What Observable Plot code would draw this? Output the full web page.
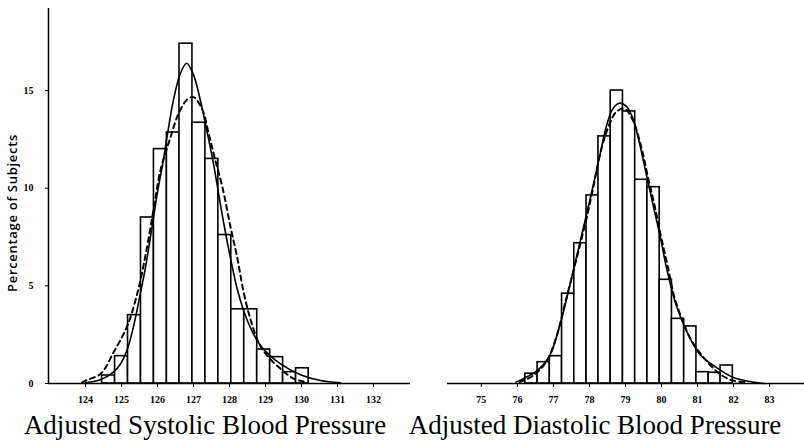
<!DOCTYPE html>
<html><head><meta charset="utf-8">
<script src="https://cdn.jsdelivr.net/npm/d3@7"></script>
<script src="https://cdn.jsdelivr.net/npm/@observablehq/plot@0.6"></script>
<style>
body{margin:0;background:#fff;}
#wrap{position:relative;width:804px;height:443px;overflow:hidden;background:#fff;}
#left{position:absolute;left:0;top:0;}
#right{position:absolute;left:420px;top:0;}
.title{position:absolute;top:412px;width:420px;text-align:center;font-family:"Liberation Serif","Times New Roman",serif;font-size:27px;line-height:27px;white-space:nowrap;color:#000;}
.ylab{letter-spacing:0.7px;}
</style></head><body>
<div id="wrap"><div id="left"></div><div id="right"></div>
<div class="title" style="left:-5px">Adjusted Systolic Blood Pressure</div>
<div class="title" style="left:385px">Adjusted Diastolic Blood Pressure</div>
</div>
<script>
// ---- Systolic (left panel) ----
const sysTicks = [124, 125, 126, 127, 128, 129, 130, 131, 132];
const sysEdges = [124.46, 124.82, 125.18, 125.54, 125.90, 126.26, 126.61, 126.97, 127.33, 127.69, 128.05, 128.41, 128.77, 129.13, 129.49, 129.85, 130.20];
const sysPct = [0.41, 1.4, 3.5, 8.5, 12.0, 12.85, 17.4, 13.35, 11.5, 7.6, 3.8, 3.8, 1.74, 1.35, 0.58, 0.78];
const sysSolidX = [124.00, 124.42, 124.78, 124.97, 125.17, 125.33, 125.50, 125.67, 125.83, 126.00, 126.14, 126.28, 126.44, 126.64, 126.81, 127.00, 127.19, 127.33, 127.53, 127.69, 127.86, 128.03, 128.22, 128.50, 128.86, 129.42, 129.97, 130.53, 131.08];
const sysSolidY = [0.03, 0.2, 0.6, 1.0, 1.8, 2.9, 4.4, 6.0, 7.8, 9.8, 11.2, 12.8, 14.5, 15.9, 16.4, 15.8, 14.5, 13.3, 11.5, 9.8, 8.0, 6.4, 4.8, 3.2, 1.95, 1.0, 0.45, 0.15, 0.04];
const sysDashX = [123.90, 124.00, 124.42, 124.78, 125.17, 125.47, 125.69, 125.89, 126.08, 126.36, 126.58, 126.83, 127.00, 127.25, 127.42, 127.61, 127.81, 128.03, 128.22, 128.39, 128.58, 128.81, 129.06, 129.42, 129.78, 130.06];
const sysDashY = [0.05, 0.15, 0.5, 1.6, 3.0, 4.85, 6.8, 8.9, 10.9, 12.6, 13.8, 14.55, 14.66, 14.0, 12.8, 11.4, 10.0, 8.0, 6.4, 4.7, 3.3, 2.1, 1.4, 0.75, 0.25, 0.1];

// ---- Diastolic (right panel) ----
const diaTicks = [75, 76, 77, 78, 79, 80, 81, 82, 83];
const diaEdges = [76.22, 76.56, 76.90, 77.24, 77.58, 77.92, 78.25, 78.59, 78.93, 79.27, 79.61, 79.95, 80.29, 80.63, 80.97, 81.31, 81.64, 81.98];
const diaPct = [0.5, 1.09, 1.4, 4.6, 7.18, 9.63, 12.65, 15.0, 13.93, 10.43, 10.05, 5.31, 3.31, 2.92, 0.58, 0.55, 0.92];
const diaSolidX = [75.96, 76.24, 76.56, 76.89, 77.12, 77.35, 77.58, 77.81, 78.05, 78.28, 78.46, 78.65, 78.83, 79.02, 79.20, 79.39, 79.58, 79.76, 79.99, 80.13, 80.41, 80.69, 81.06, 81.52, 81.98, 82.54, 82.86];
const diaSolidY = [0.07, 0.32, 0.67, 1.4, 2.6, 4.2, 6.0, 7.8, 9.7, 11.6, 13.1, 14.07, 14.35, 14.2, 13.6, 12.3, 10.7, 9.2, 7.3, 6.0, 4.0, 2.7, 1.5, 0.83, 0.32, 0.07, 0.0];
const diaDashX = [76.06, 76.43, 76.80, 77.08, 77.35, 77.63, 77.95, 78.09, 78.33, 78.56, 78.74, 78.97, 79.20, 79.44, 79.62, 79.81, 79.99, 80.18, 80.36, 80.59, 80.83, 81.24, 81.61, 81.98, 82.35];
const diaDashY = [0.07, 0.4, 1.09, 2.37, 4.3, 6.3, 8.7, 9.9, 12.0, 13.3, 13.9, 14.07, 13.5, 12.1, 10.6, 9.1, 7.5, 5.95, 4.4, 3.2, 2.2, 1.18, 0.5, 0.15, 0.07];

const yTicks = [0, 5, 10, 15];
const yLabel = "Percentage of Subjects";

const tickFont = '"Liberation Serif", "Times New Roman", serif';

function bins(edges, pct) {
  return pct.map((v, i) => ({x1: edges[i], x2: edges[i + 1], y: v}));
}
function pts(xs, ys) {
  return xs.map((x, i) => ({x, y: ys[i]}));
}

function panel(o) {
  const marks = [
    Plot.rectY(bins(o.edges, o.pct), {x1: "x1", x2: "x2", y: "y", fill: "white", stroke: "black", strokeWidth: 1.6, insetLeft: 0, insetRight: 0}),
    Plot.line(pts(o.solidX, o.solidY), {x: "x", y: "y", curve: "catmull-rom", stroke: "black", strokeWidth: 1.6}),
    Plot.line(pts(o.dashX, o.dashY), {x: "x", y: "y", curve: "catmull-rom", stroke: "black", strokeWidth: 2, strokeDasharray: "5,4"}),
    Plot.ruleY([0], {stroke: "black", strokeWidth: 1.5}),
    Plot.axisX(o.ticks, {tickSize: 4, tickPadding: 8, fontSize: 10, fontWeight: "bold", fontFamily: tickFont, label: null})
  ];
  if (o.showY) {
    marks.push(Plot.ruleX([o.xDomain[0]], {stroke: "black", strokeWidth: 1.5}));
    marks.push(Plot.axisY(yTicks, {tickSize: 3, tickPadding: 12, fontSize: 10, fontWeight: "bold", fontFamily: tickFont, label: null}));
    marks.push(Plot.text([yLabel], {text: d => d, frameAnchor: "left", textAnchor: "middle", rotate: -90, dx: -36, dy: 17, fontFamily: '"Open Sans", sans-serif', fontSize: 13, fontWeight: 600, fill: "black"}));
  }
  const svg = Plot.plot({
    width: o.width,
    height: 410,
    marginLeft: o.marginLeft,
    marginRight: o.marginRight,
    marginTop: 8,
    marginBottom: 27,
    style: {background: "white", color: "black", fontFamily: tickFont, overflow: "visible"},
    x: {domain: o.xDomain, axis: null},
    y: {domain: [0, 19.2], axis: null},
    marks
  });
  d3.select(svg).selectAll("text").filter(function() { return this.textContent === yLabel; }).attr("class", "ylab");
  return svg;
}

document.getElementById("left").appendChild(panel({
  edges: sysEdges, pct: sysPct, solidX: sysSolidX, solidY: sysSolidY, dashX: sysDashX, dashY: sysDashY,
  ticks: sysTicks, width: 420, marginLeft: 48, marginRight: 10, xDomain: [122.97, 133.03], showY: true
}));
document.getElementById("right").appendChild(panel({
  edges: diaEdges, pct: diaPct, solidX: diaSolidX, solidY: diaSolidY, dashX: diaDashX, dashY: diaDashY,
  ticks: diaTicks, width: 384, marginLeft: 27, marginRight: 0, xDomain: [74.06, 83.97], showY: false
}));
</script>
</body></html>
